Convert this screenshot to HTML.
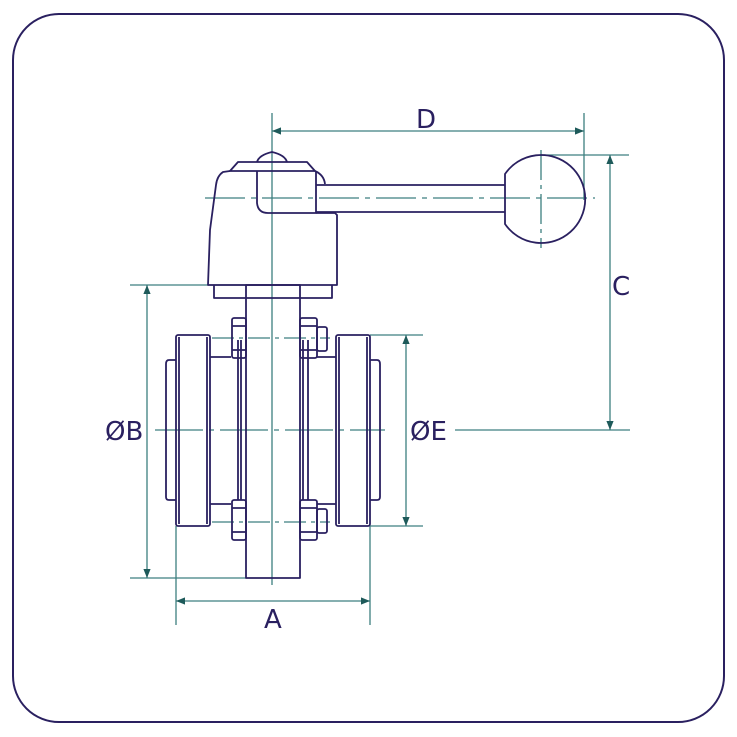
<!DOCTYPE html>
<html><head><style>
html,body{margin:0;padding:0;background:#fff;}
svg{display:block;}
text{font-family:"DejaVu Sans","Liberation Sans",sans-serif;fill:#2a2060;font-size:26px;}
</style></head><body>
<svg width="737" height="737" viewBox="0 0 737 737" xmlns="http://www.w3.org/2000/svg">
<defs>
<marker id="ar" viewBox="0 0 10 10" refX="10" refY="5" markerWidth="7" markerHeight="7" orient="auto-start-reverse"><path d="M0,1 L10,5 L0,9 z" fill="#1e5a5a"/></marker>
</defs>
<rect x="13" y="14" width="711" height="708" rx="46" fill="#fff" stroke="#2a2060" stroke-width="2"/>

<g stroke="#3d7f80" stroke-width="1.3" fill="none">
<line x1="272" y1="148" x2="272" y2="585"/>
<line x1="272" y1="113" x2="272" y2="148"/>
<line x1="155" y1="430" x2="385" y2="430" stroke-dasharray="48,6,5,6"/>
<line x1="455" y1="430" x2="630" y2="430"/>
<line x1="205" y1="198" x2="595" y2="198" stroke-dasharray="40,6,5,6"/>
<line x1="541" y1="150" x2="541" y2="248" stroke-dasharray="30,5,4,5"/>
<line x1="212" y1="338" x2="330" y2="338" stroke-dasharray="22,5,4,5"/>
<line x1="212" y1="522" x2="330" y2="522" stroke-dasharray="22,5,4,5"/>
<line x1="584" y1="113" x2="584" y2="200"/>
<line x1="272" y1="131" x2="584" y2="131" marker-start="url(#ar)" marker-end="url(#ar)"/>
<line x1="541" y1="155" x2="629" y2="155"/>
<line x1="610" y1="155" x2="610" y2="430" marker-start="url(#ar)" marker-end="url(#ar)"/>
<line x1="130" y1="285" x2="246" y2="285"/>
<line x1="130" y1="578" x2="246" y2="578"/>
<line x1="147" y1="285" x2="147" y2="578" marker-start="url(#ar)" marker-end="url(#ar)"/>
<line x1="370" y1="335" x2="423" y2="335"/>
<line x1="370" y1="526" x2="423" y2="526"/>
<line x1="406" y1="335" x2="406" y2="526" marker-start="url(#ar)" marker-end="url(#ar)"/>
<line x1="176" y1="526" x2="176" y2="625"/>
<line x1="370" y1="526" x2="370" y2="625"/>
<line x1="176" y1="601" x2="370" y2="601" marker-start="url(#ar)" marker-end="url(#ar)"/>
</g>

<g stroke="#2a2060" stroke-width="1.8" fill="none" stroke-linejoin="round">
<path d="M230,171 L238,162 L307,162 L315,171 Z"/>
<path d="M257,162 Q259,155 272,152 Q285,155 287,162"/>
<path d="M230,171 L223,172 Q217,176 216,185 L210,230 L208,285 L337,285 L337,215 L335,213 L316,213"/>
<path d="M315,171 Q324,175 325,184"/>
<path d="M257,171 L257,203 Q258,213 268,213 L316,213 L316,171"/>
<path d="M214,285 L214,298 L332,298 L332,285"/>
<path d="M316,185 L505,185 M316,212 L505,212"/>
<path d="M505,224 L505,174 A44,44 0 1,1 505,224 Z"/>
<rect x="246" y="285" width="54" height="293"/>
<path d="M238,340 L238,500 M241,340 L241,500 M303,340 L303,500 M308,340 L308,500"/>
<rect x="176" y="335" width="34" height="191" rx="2"/>
<path d="M179,337 L179,524 M207,337 L207,524"/>
<path d="M176,360 L169,360 Q166,360 166,364 L166,497 Q166,500 169,500 L176,500"/>
<path d="M210,504 L231,504 M210,357 L231,357"/>
<rect x="336" y="335" width="34" height="191" rx="2"/>
<path d="M339,337 L339,524 M367,337 L367,524"/>
<path d="M370,360 L377,360 Q380,360 380,364 L380,497 Q380,500 377,500 L370,500"/>
<path d="M317,504 L336,504 M317,357 L336,357"/>
<rect x="232" y="318" width="14" height="40" rx="2"/>
<path d="M232,326 L246,326 M232,350 L246,350"/>
<rect x="232" y="500" width="14" height="40" rx="2"/>
<path d="M232,508 L246,508 M232,532 L246,532"/>
<rect x="300" y="318" width="17" height="40" rx="2"/>
<path d="M300,326 L317,326 M300,350 L317,350"/>
<rect x="317" y="327" width="10" height="24" rx="2"/>
<rect x="300" y="500" width="17" height="40" rx="2"/>
<path d="M300,508 L317,508 M300,532 L317,532"/>
<rect x="317" y="509" width="10" height="24" rx="2"/>
</g>

<text x="416" y="128">D</text>
<text x="612" y="295">C</text>
<text x="105" y="440">ØB</text>
<text x="410" y="440">ØE</text>
<text x="264" y="628">A</text>
</svg>
</body></html>
